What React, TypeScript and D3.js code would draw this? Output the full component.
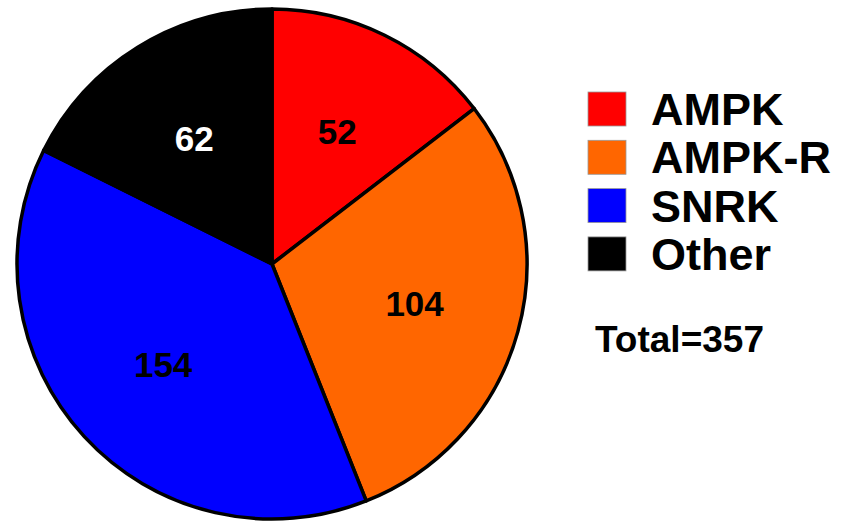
import React from "react";
import * as d3 from "d3";

// Categories and colours
const categories = ["AMPK", "AMPK-R", "SNRK", "Other"];
const colors = ["#FF0000", "#FF6600", "#0000FF", "#000000"];
// Numbers printed on the slices
const labelValues = [52, 104, 154, 62];
// Slice sizes as drawn in the picture (out of 357)
const sliceValues = [52, 105, 137, 63];
const labelColors = ["#000", "#000", "#000", "#fff"];
const totalText = "Total=357";

const W = 846;
const H = 523;
const cx = 272;
const cy = 264;
const R = 255;
const FONT = "'Liberation Sans', Arial, Helvetica, sans-serif";

export default function App() {
  const pie = d3
    .pie<number>()
    .sort(null)
    .value((d) => d)
    .startAngle(0)
    .endAngle(2 * Math.PI);
  const arcs = pie(sliceValues);
  const arc = d3.arc<d3.PieArcDatum<number>>().innerRadius(0).outerRadius(R);
  const labelArc = d3
    .arc<d3.PieArcDatum<number>>()
    .innerRadius(R * 0.58)
    .outerRadius(R * 0.58);

  const legendY = d3
    .scaleBand<string>()
    .domain(categories)
    .range([92, 92 + 48.3 * categories.length]);

  return (
    <svg
      width={W}
      height={H}
      style={{ position: "absolute", left: 0, top: 0, background: "#fff" }}
    >
      <g transform={`translate(${cx},${cy})`}>
        {arcs.map((a, i) => (
          <path
            key={i}
            d={arc(a) || ""}
            fill={colors[i]}
            stroke="#000"
            strokeWidth={3.5}
            strokeLinejoin="round"
          />
        ))}
        {arcs.map((a, i) => {
          const [x, y] = labelArc.centroid(a);
          return (
            <text
              key={"l" + i}
              x={x}
              y={y}
              dy="0.36em"
              textAnchor="middle"
              fontFamily={FONT}
              fontWeight="bold"
              fontSize={35}
              fill={labelColors[i]}
            >
              {labelValues[i]}
            </text>
          );
        })}
      </g>
      {categories.map((c, i) => {
        const y = legendY(c)!;
        return (
          <g key={"lg" + i}>
            <rect
              x={588}
              y={y}
              width={38}
              height={34}
              fill={colors[i]}
              stroke="#999"
              strokeWidth={0.8}
            />
            <text
              x={651}
              y={y + 33}
              fontFamily={FONT}
              fontWeight="bold"
              fontSize={45}
              fill="#000"
            >
              {c}
            </text>
          </g>
        );
      })}
      <text
        x={595}
        y={352}
        fontFamily={FONT}
        fontWeight="bold"
        fontSize={37}
        fill="#000"
      >
        {totalText}
      </text>
    </svg>
  );
}
